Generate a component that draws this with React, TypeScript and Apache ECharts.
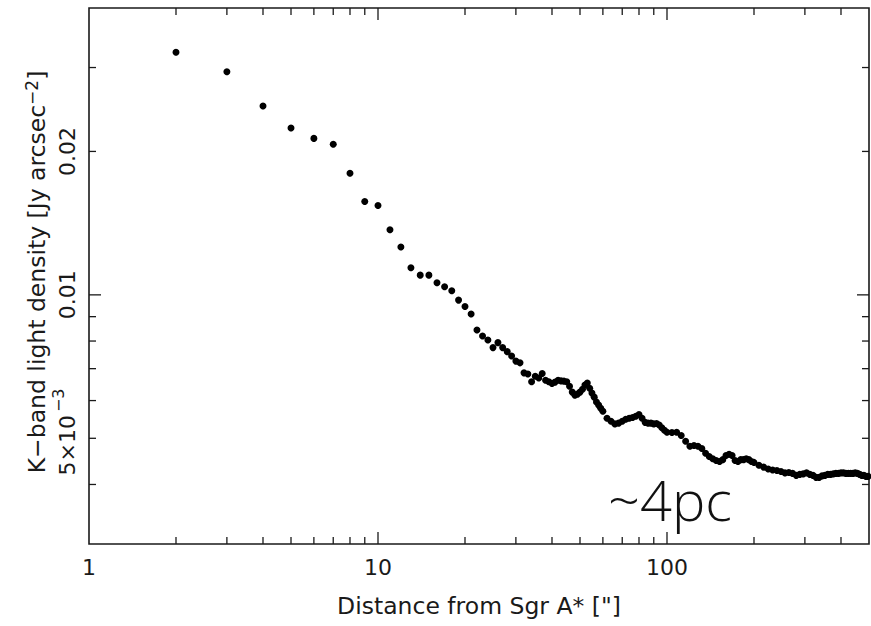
import React, { useEffect, useRef } from 'react';
import * as echarts from 'echarts';

const X_MIN = 1;
const X_MAX = 500;
const Y_MIN = 0.003;
const Y_MAX = 0.04;

const distances = [
  2, 3, 4, 5, 6, 7, 8, 9, 10, 11, 12, 13, 14, 15, 16, 17, 18, 19, 20, 21,
  22, 23, 24, 25, 26, 27, 28, 29, 30, 31, 32, 33, 34, 35, 36, 37, 38, 39, 40,
  41, 42, 43, 44, 45, 46, 47, 48, 49, 50, 51, 52, 53, 54, 55, 56, 57, 58, 59, 60,
  62, 64, 66, 68, 70, 72, 74, 76, 78, 80, 82, 84, 86, 88, 90, 92, 94, 96, 98, 100,
  104, 108, 112, 116, 120, 124, 128, 132, 136, 140, 144, 148, 152, 156, 160, 164,
  168, 172, 176, 180, 184, 188, 192, 196, 200,
  208, 216, 224, 232, 240, 248, 256, 264, 272, 280, 288, 296, 304, 312, 320, 328,
  336, 344, 352, 360, 368, 376, 384, 392, 400, 408, 416, 424, 432, 440, 448, 456,
  464, 472, 480, 488, 496,
];

const density = [
  0.0323, 0.0294, 0.0249, 0.0224, 0.0213, 0.0207, 0.018, 0.0157, 0.0154, 0.0137,
  0.0126, 0.0114, 0.011, 0.011, 0.0106, 0.0104, 0.0102, 0.00975, 0.00945, 0.00912,
  0.00844, 0.0082, 0.00804, 0.00775, 0.00794, 0.00775, 0.0076, 0.00744, 0.00726, 0.0072,
  0.00686, 0.00682, 0.00657, 0.00675, 0.00669, 0.00684, 0.00662, 0.00657, 0.00652,
  0.00656, 0.00662, 0.0066, 0.00659, 0.00657, 0.00643, 0.00625, 0.00616, 0.00619, 0.00625,
  0.00634, 0.00647, 0.00653, 0.00637, 0.00622, 0.0061, 0.00596, 0.00587, 0.00578, 0.0057,
  0.00551, 0.00543, 0.00536, 0.00538, 0.00543, 0.00548, 0.00551, 0.00553, 0.00556, 0.00561,
  0.00551, 0.0054, 0.00538, 0.00538, 0.00536, 0.00537, 0.00533, 0.00526, 0.0052, 0.00515,
  0.00514, 0.00515, 0.00507, 0.00493, 0.00481, 0.00483, 0.00481, 0.00476, 0.00465, 0.00458,
  0.00453, 0.00449, 0.00447, 0.00451, 0.0046, 0.00463,
  0.0046, 0.00449, 0.00447, 0.00451, 0.00451, 0.00453, 0.00451, 0.00447, 0.00445,
  0.00439, 0.00435, 0.00431, 0.00429, 0.00428, 0.00426, 0.00423, 0.00424, 0.00422, 0.00418,
  0.0042, 0.00421, 0.00423, 0.0042, 0.00418, 0.00414,
  0.00414, 0.00417, 0.00418, 0.0042, 0.0042, 0.00421, 0.00422, 0.00422, 0.00423, 0.00423,
  0.00422, 0.00422, 0.00422, 0.00422, 0.00423, 0.00422,
  0.0042, 0.00418, 0.00418, 0.00416, 0.00416,
];

const xMajorTicks = [10, 100];
const xMinorTicks = [2, 3, 4, 5, 6, 7, 8, 9, 20, 30, 40, 50, 60, 70, 80, 90, 200, 300, 400];
const yMajorTicks = [0.01];
const yMinorTicks = [0.004, 0.005, 0.006, 0.007, 0.008, 0.009, 0.02, 0.03];

const xTickLabels = [1, 10, 100];
const xTickLabelText = ['1', '10', '100'];
const yTickLabels = [0.02, 0.01, 0.005];
const yTickLabelText = ['0.02', '0.01', '5×10'];
const yTickLabelSup = ['', '', '−3'];

const MAJOR_LEN = 12;
const MINOR_LEN = 7;
const INK = '#1a1a1a';
const FONT = '"DejaVu Sans", "Liberation Sans", sans-serif';

export default function App() {
  const ref = useRef<HTMLDivElement>(null);

  useEffect(() => {
    if (!ref.current) return;
    const chart = echarts.init(ref.current, undefined, { renderer: 'svg' });

    const xTickData = [
      ...xMajorTicks.map((v) => [v, Y_MIN, MAJOR_LEN]),
      ...xMinorTicks.map((v) => [v, Y_MIN, MINOR_LEN]),
    ];
    const yTickData = [
      ...yMajorTicks.map((v) => [X_MIN, v, MAJOR_LEN]),
      ...yMinorTicks.map((v) => [X_MIN, v, MINOR_LEN]),
    ];
    const tickStyle = { stroke: INK, lineWidth: 1.3 };

    const option: any = {
      animation: false,
      backgroundColor: '#ffffff',
      grid: {
        left: 89,
        right: 2,
        top: 8,
        bottom: 82,
        show: true,
        borderColor: INK,
        borderWidth: 1.6,
        backgroundColor: 'transparent',
      },
      xAxis: {
        type: 'log',
        logBase: 10,
        min: X_MIN,
        max: X_MAX,
        axisLine: { show: false },
        axisTick: { show: false },
        axisLabel: { show: false },
        splitLine: { show: false },
      },
      yAxis: {
        type: 'log',
        logBase: 10,
        min: Y_MIN,
        max: Y_MAX,
        axisLine: { show: false },
        axisTick: { show: false },
        axisLabel: { show: false },
        splitLine: { show: false },
      },
      graphic: [
        {
          type: 'text',
          x: 37,
          y: 272,
          rotation: Math.PI / 2,
          style: {
            text: '{a|K−band light density [Jy arcsec}{s|−2}{a|]}',
            align: 'center',
            verticalAlign: 'middle',
            fill: INK,
            rich: {
              a: { fontSize: 23.5, fontFamily: FONT, fill: INK, lineHeight: 28 },
              s: { fontSize: 17, fontFamily: FONT, fill: INK, lineHeight: 16, verticalAlign: 'top' },
            },
          },
        },
        {
          type: 'text',
          x: 479,
          y: 606,
          style: {
            text: 'Distance from Sgr A* ["]',
            fontSize: 23.5,
            fontFamily: FONT,
            fill: INK,
            align: 'center',
            verticalAlign: 'middle',
          },
        },
        {
          type: 'text',
          x: 670,
          y: 499,
          style: {
            text: '~4pc',
            fontSize: 56,
            fontFamily: '"Open Sans", "Noto Sans", sans-serif',
            fontWeight: 300,
            fill: '#111',
            align: 'center',
            verticalAlign: 'middle',
          },
        },
      ],
      series: [
        {
          type: 'scatter',
          data: distances.map((d, i) => [d, density[i]]),
          symbol: 'circle',
          symbolSize: 7,
          itemStyle: { color: '#000', opacity: 1 },
          silent: true,
          z: 5,
        },
        {
          type: 'custom',
          coordinateSystem: 'cartesian2d',
          data: xTickData,
          encode: { x: 0, y: 1 },
          silent: true,
          z: 6,
          renderItem: (_p: any, api: any) => {
            const v = api.value(0);
            const len = api.value(2);
            const b = api.coord([v, Y_MIN]);
            const t = api.coord([v, Y_MAX]);
            return {
              type: 'group',
              children: [
                { type: 'line', shape: { x1: b[0], y1: b[1], x2: b[0], y2: b[1] - len }, style: tickStyle },
                { type: 'line', shape: { x1: t[0], y1: t[1], x2: t[0], y2: t[1] + len }, style: tickStyle },
              ],
            };
          },
        },
        {
          type: 'custom',
          coordinateSystem: 'cartesian2d',
          data: yTickData,
          encode: { x: 0, y: 1 },
          silent: true,
          z: 6,
          renderItem: (_p: any, api: any) => {
            const v = api.value(1);
            const len = api.value(2);
            const l = api.coord([X_MIN, v]);
            const r = api.coord([X_MAX, v]);
            return {
              type: 'group',
              children: [
                { type: 'line', shape: { x1: l[0], y1: l[1], x2: l[0] + len, y2: l[1] }, style: tickStyle },
                { type: 'line', shape: { x1: r[0], y1: r[1], x2: r[0] - len, y2: r[1] }, style: tickStyle },
              ],
            };
          },
        },
        {
          type: 'custom',
          coordinateSystem: 'cartesian2d',
          data: xTickLabels.map((v) => [v, Y_MIN]),
          encode: { x: 0, y: 1 },
          silent: true,
          renderItem: (p: any, api: any) => {
            const c = api.coord([api.value(0), Y_MIN]);
            return {
              type: 'text',
              x: c[0],
              y: c[1] + 23,
              style: {
                text: xTickLabelText[p.dataIndex],
                fontSize: 22,
                fontFamily: FONT,
                fill: INK,
                align: 'center',
                verticalAlign: 'middle',
              },
            };
          },
        },
        {
          type: 'custom',
          coordinateSystem: 'cartesian2d',
          data: yTickLabels.map((v) => [X_MIN, v]),
          encode: { x: 0, y: 1 },
          silent: true,
          renderItem: (p: any, api: any) => {
            const c = api.coord([X_MIN, api.value(1)]);
            const sup = yTickLabelSup[p.dataIndex];
            const children: any[] = [
              {
                type: 'text',
                x: c[0] - 22,
                y: c[1] + (sup ? 7 : 0),
                rotation: Math.PI / 2,
                style: {
                  text: yTickLabelText[p.dataIndex],
                  fontSize: 22,
                  fontFamily: FONT,
                  fill: INK,
                  align: 'center',
                  verticalAlign: 'middle',
                },
              },
            ];
            if (sup) {
              children.push({
                type: 'text',
                x: c[0] - 31,
                y: c[1] - 38,
                rotation: Math.PI / 2,
                style: {
                  text: sup,
                  fontSize: 16,
                  fontFamily: FONT,
                  fill: INK,
                  align: 'center',
                  verticalAlign: 'middle',
                },
              });
            }
            return { type: 'group', children };
          },
        },
      ],
    };

    chart.setOption(option);
    return () => chart.dispose();
  }, []);

  return <div ref={ref} style={{ width: 871, height: 626, position: 'absolute', left: 0, top: 0 }} />;
}
